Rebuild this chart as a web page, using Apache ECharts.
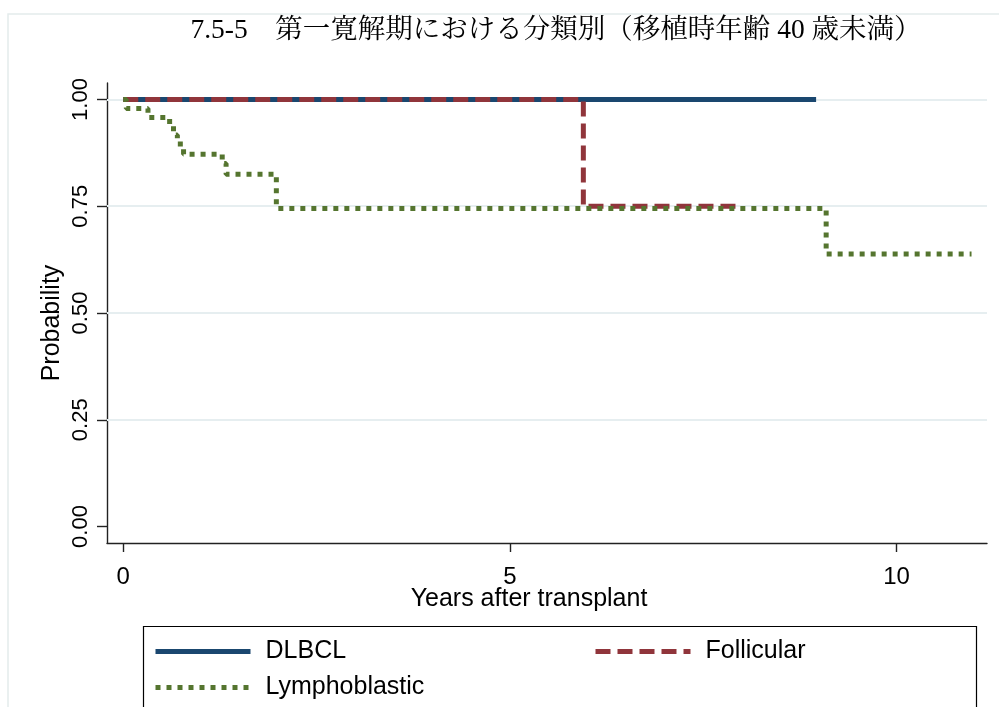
<!DOCTYPE html>
<html>
<head>
<meta charset="utf-8">
<script src="https://cdn.jsdelivr.net/npm/echarts@6/dist/echarts.min.js"></script>
<style>
html,body{margin:0;padding:0;background:#fff;}
#chart{width:999px;height:707px;}
</style>
</head>
<body>
<div id="chart"></div>
<script>
// ---- data ----
const titleText = '7.5-5　第一寛解期における分類別（移植時年齢 40 歳未満）';
const seriesNames = ['DLBCL', 'Follicular', 'Lymphoblastic'];
const dlbclTimes = [0, 8.96];
const dlbclSurv = [1.0, 1.0];
const follTimes = [0, 5.95, 7.97];
const follSurv = [1.0, 0.75, 0.75];
const lymphTimes = [0, 0.04, 0.32, 0.60, 0.65, 0.70, 0.78, 1.28, 1.33, 1.98, 9.09, 10.97];
const lymphSurv = [1.0, 0.979, 0.958, 0.9375, 0.917, 0.896, 0.872, 0.85, 0.825, 0.745, 0.638, 0.638];
const xTicks = [0, 5, 10];
const yTicks = [0, 0.25, 0.5, 0.75, 1.0];
const yGrid = [0.25, 0.5, 0.75, 1.0];
const xAxisTitle = 'Years after transplant';
const yAxisTitle = 'Probability';

const pairs = (xs, ys) => xs.map((x, i) => [x, ys[i]]);
const font = '"Liberation Sans", Arial, sans-serif';

const legendCommon = {
  itemWidth: 95, itemHeight: 14, padding: 0,
  lineStyle: {width: 5},
  itemStyle: {color: 'rgba(0,0,0,0)', borderWidth: 0, opacity: 0},
  textStyle: {fontFamily: font, fontSize: 25, color: '#000', padding: [0, 0, 0, 10]}
};

const chart = echarts.init(document.getElementById('chart'), null, {renderer: 'canvas'});
const option = {
  animation: false,
  backgroundColor: '#ffffff',
  grid: {left: 107, right: 12, top: 83, bottom: 164, containLabel: false},
  xAxis: {
    type: 'value', min: -0.21, max: 11.17,
    axisLine: {show: true, onZero: false, lineStyle: {color: '#222', width: 1.4}},
    axisTick: {show: true, inside: false, length: 9, customValues: xTicks, lineStyle: {color: '#222', width: 1.4}},
    axisLabel: {show: true, customValues: xTicks, margin: 22, fontFamily: font, fontSize: 24, color: '#000'},
    splitLine: {show: false}
  },
  yAxis: {
    type: 'value', min: -0.0386, max: 1.0386,
    axisLine: {show: true, onZero: false, lineStyle: {color: '#222', width: 1.4}},
    axisTick: {show: true, inside: false, length: 10, customValues: yTicks, lineStyle: {color: '#222', width: 1.4}},
    axisLabel: {show: true, customValues: yTicks, rotate: 90, margin: 15, fontFamily: font, fontSize: 22, color: '#000',
      formatter: v => v.toFixed(2)},
    splitLine: {show: false}
  },
  legend: [
    Object.assign({data: [seriesNames[0]], left: 153, top: 639}, legendCommon),
    Object.assign({data: [seriesNames[1]], left: 593, top: 639}, legendCommon),
    Object.assign({data: [seriesNames[2]], left: 153, top: 675}, legendCommon)
  ],
  graphic: [
    {type: 'rect', z: -10, shape: {x: 8, y: 14, width: 1100, height: 800},
      style: {fill: 'none', stroke: '#e4ebec', lineWidth: 1.5}},
    {type: 'text', x: 556, y: 31,
      style: {text: titleText, fontFamily: '"Liberation Serif", "Noto Serif CJK JP", "Noto Sans CJK JP", serif',
        fontSize: 27.5, fill: '#000', textAlign: 'center', textVerticalAlign: 'middle'}},
    {type: 'text', x: 529, y: 599,
      style: {text: xAxisTitle, fontFamily: font, fontSize: 25, fill: '#000', textAlign: 'center', textVerticalAlign: 'middle'}},
    {type: 'text', x: 52, y: 323, rotation: Math.PI / 2,
      style: {text: yAxisTitle, fontFamily: font, fontSize: 25, fill: '#000', textAlign: 'center', textVerticalAlign: 'middle'}},
    {type: 'rect', shape: {x: 143.5, y: 626.5, width: 833, height: 120},
      style: {fill: 'none', stroke: '#000', lineWidth: 1.2}}
  ],
  series: [
    {
      name: '_grid', type: 'line', data: [], silent: true, z: 1,
      markLine: {
        silent: true, symbol: 'none', z: 1, animation: false,
        label: {show: false},
        lineStyle: {color: '#e6eef0', width: 2.2, type: 'solid'},
        data: yGrid.map(v => ({yAxis: v}))
      }
    },
    {
      name: seriesNames[0], type: 'line', step: 'end', showSymbol: false, symbol: 'none', z: 3,
      data: pairs(dlbclTimes, dlbclSurv),
      lineStyle: {color: '#1a476f', width: 5, type: 'solid', cap: 'butt'},
      itemStyle: {color: '#1a476f'}
    },
    {
      name: seriesNames[1], type: 'line', step: 'end', showSymbol: false, symbol: 'none', z: 4,
      data: pairs(follTimes, follSurv),
      lineStyle: {color: '#90353b', width: 5, type: [15, 7], cap: 'butt'},
      itemStyle: {color: '#90353b'}
    },
    {
      name: seriesNames[2], type: 'line', step: 'end', showSymbol: false, symbol: 'none', z: 5,
      data: pairs(lymphTimes, lymphSurv),
      lineStyle: {color: '#55752f', width: 5, type: [5, 6], cap: 'butt'},
      itemStyle: {color: '#55752f'}
    }
  ]
};
chart.setOption(option);
</script>
</body>
</html>
